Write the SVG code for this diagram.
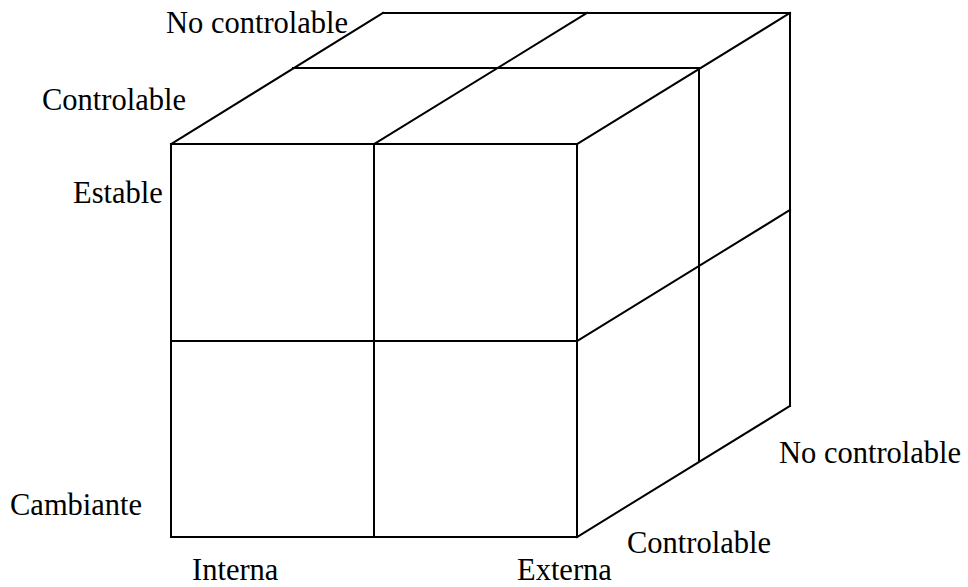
<svg xmlns="http://www.w3.org/2000/svg" width="968" height="587" viewBox="0 0 968 587">
<style>
.e{stroke:#000;stroke-width:2;fill:none;stroke-linecap:square}
.t{font-family:"Liberation Serif","Times New Roman",serif;font-size:30.5px;fill:#000}
</style>
<rect width="968" height="587" fill="#fff"/>
<g id="cube">
<g id="front">
<rect class="e" x="171" y="144" width="406" height="393"/>
<line class="e" x1="374" y1="144" x2="374" y2="537"/>
<line class="e" x1="171" y1="341" x2="577" y2="341"/>
</g>
<g id="top">
<line class="e" x1="171" y1="144" x2="383" y2="13"/>
<line class="e" x1="374" y1="144" x2="587" y2="13"/>
<line class="e" x1="577" y1="144" x2="790" y2="13"/>
<line class="e" x1="383" y1="13" x2="790" y2="13"/>
<line class="e" x1="293" y1="68" x2="699" y2="68"/>
</g>
<g id="side">
<line class="e" x1="790" y1="13" x2="790" y2="406"/>
<line class="e" x1="699" y1="68" x2="699" y2="461"/>
<line class="e" x1="577" y1="537" x2="790" y2="406"/>
<line class="e" x1="577" y1="341" x2="790" y2="210"/>
</g>
</g>
<g id="labels">
<text class="t" x="166" y="33">No controlable</text>
<text class="t" x="42" y="110">Controlable</text>
<text class="t" x="73" y="203">Estable</text>
<text class="t" x="10" y="515">Cambiante</text>
<text class="t" x="192" y="580">Interna</text>
<text class="t" x="517" y="580">Externa</text>
<text class="t" x="627" y="553">Controlable</text>
<text class="t" x="779" y="463">No controlable</text>
</g>
</svg>
